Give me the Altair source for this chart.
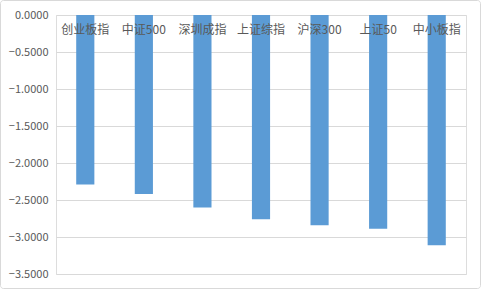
import altair as alt
import pandas as pd

categories = ["创业板指", "中证500", "深圳成指", "上证综指", "沪深300", "上证50", "中小板指"]
values = [-2.29, -2.42, -2.60, -2.76, -2.84, -2.89, -3.11]
y_ticks = [0, -0.5, -1.0, -1.5, -2.0, -2.5, -3.0, -3.5]

df = pd.DataFrame({"cat": categories, "val": values})
FONT = "Noto Sans CJK SC"

x = alt.X("cat:N", sort=categories, title=None,
          scale=alt.Scale(paddingInner=0.69, paddingOuter=0.345), axis=None)
y_axis = alt.Axis(values=y_ticks, format=".4f", grid=True, gridColor="#D9D9D9",
                  domain=False, ticks=False, labelColor="#595959", labelFont=FONT,
                  labelFontSize=11, labelPadding=8, labelOverlap=False,
                  labelFlush=False)
y = alt.Y("val:Q", title=None,
          scale=alt.Scale(domain=[-3.5, 0], nice=False, zero=False),
          axis=y_axis)

bars = alt.Chart(df).mark_bar(color="#5B9BD5").encode(x=x, y=y, y2=alt.datum(0))

labels = alt.Chart(df).mark_text(font=FONT, fontSize=12, color="#595959", baseline="middle", dy=15).encode(
    x=alt.X("cat:N", sort=categories), y=alt.Y(datum=0, axis=y_axis, title=None), text="cat:N")

border = alt.Chart(pd.DataFrame({"a": [0]})).mark_rect(
    fill=None, stroke="#D9D9D9", strokeWidth=1, cornerRadius=3, clip=False).encode(
    x=alt.value(-55.5), x2=alt.value(424.5), y=alt.value(-14.5), y2=alt.value(273.5))

chart = alt.layer(bars, labels, border).properties(
    width=410, height=259,
    autosize=alt.AutoSizeParams(type="none"),
    padding={"left": 56, "top": 15, "right": 15, "bottom": 15},
).configure_view(stroke=None).configure_axis(labelOverlap=False).configure(background="white")

chart.save("out.html", embed_options={"renderer": "svg", "actions": False})
